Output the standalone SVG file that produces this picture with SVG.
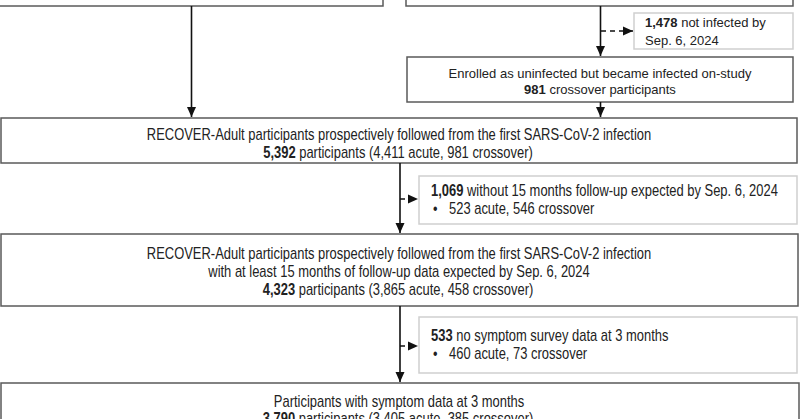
<svg xmlns="http://www.w3.org/2000/svg" width="800" height="419" viewBox="0 0 800 419">
<style>
.main{fill:#fff;stroke:#5a5a5a;stroke-width:1.5}
.side{fill:#fff;stroke:#cfcfcf;stroke-width:1.5}
.t13{font-family:"Liberation Sans",Arial,sans-serif;font-size:13px;fill:#222}
.tn{font-family:"Liberation Sans",Arial,sans-serif;font-size:15.8px;fill:#222}
.c{text-anchor:middle}
.b{font-weight:bold}
.solid{stroke:#111;stroke-width:1.6;fill:none}
.dash{stroke:#111;stroke-width:1.6;fill:none;stroke-dasharray:5 4}
</style>
<defs>
<marker id="ah" markerUnits="userSpaceOnUse" markerWidth="10" markerHeight="10" viewBox="0 0 10 10" refX="10" refY="5" orient="auto">
<path d="M0,0.5 L10,5 L0,9.5 Z" fill="#111"/>
</marker>
</defs>
<g id="top-left"><rect class="main" x="-2" y="-20" width="385" height="26"/></g>
<g id="top-right"><rect class="main" x="406" y="-20" width="387" height="26"/></g>
<g id="not-infected"><rect class="side" x="634" y="13" width="159" height="36"/>
<text class="t13" x="645" y="27"><tspan class="b">1,478</tspan> not infected by</text>
<text class="t13" x="645" y="45">Sep. 6, 2024</text></g>
<g id="crossover"><rect class="main" x="407" y="57" width="386" height="45"/>
<text class="t13 c" x="600" y="78">Enrolled as uninfected but became infected on-study</text>
<text class="t13 c" x="600" y="94"><tspan class="b">981</tspan> crossover participants</text></g>
<g id="followed"><rect class="main" x="1" y="118" width="796" height="45"/>
<text class="tn c" transform="translate(399,140) scale(0.82,1)">RECOVER-Adult participants prospectively followed from the first SARS-CoV-2 infection</text>
<text class="tn c" transform="translate(398,158) scale(0.82,1)"><tspan class="b">5,392</tspan> participants (4,411 acute, 981 crossover)</text></g>
<g id="no-followup"><rect class="side" x="419" y="176" width="378" height="48"/>
<text class="tn" transform="translate(431,196) scale(0.82,1)"><tspan class="b">1,069</tspan> without 15 months follow-up expected by Sep. 6, 2024</text>
<text class="tn" transform="translate(433,214) scale(0.82,1)">•</text>
<text class="tn" transform="translate(449,214) scale(0.82,1)">523 acute, 546 crossover</text></g>
<g id="followed-15"><rect class="main" x="1" y="234" width="797" height="72"/>
<text class="tn c" transform="translate(399,259) scale(0.82,1)">RECOVER-Adult participants prospectively followed from the first SARS-CoV-2 infection</text>
<text class="tn c" transform="translate(399,277) scale(0.82,1)">with at least 15 months of follow-up data expected by Sep. 6, 2024</text>
<text class="tn c" transform="translate(398,295) scale(0.82,1)"><tspan class="b">4,323</tspan> participants (3,865 acute, 458 crossover)</text></g>
<g id="no-survey"><rect class="side" x="419" y="317" width="378" height="56"/>
<text class="tn" transform="translate(431,341) scale(0.82,1)"><tspan class="b">533</tspan> no symptom survey data at 3 months</text>
<text class="tn" transform="translate(433,359) scale(0.82,1)">•</text>
<text class="tn" transform="translate(449,359) scale(0.82,1)">460 acute, 73 crossover</text></g>
<g id="symptom-data"><rect class="main" x="1" y="383" width="798" height="60"/>
<text class="tn c" transform="translate(399,407) scale(0.82,1)">Participants with symptom data at 3 months</text>
<text class="tn c" transform="translate(398,424) scale(0.82,1)"><tspan class="b">3,790</tspan> participants (3,405 acute, 385 crossover)</text></g>
<g id="connectors">
<line class="solid" x1="191.5" y1="6" x2="191.5" y2="117" marker-end="url(#ah)"/>
<line class="solid" x1="600.5" y1="6" x2="600.5" y2="56" marker-end="url(#ah)"/>
<line class="dash" x1="601" y1="31" x2="633" y2="31" marker-end="url(#ah)"/>
<line class="solid" x1="600.5" y1="102" x2="600.5" y2="117" marker-end="url(#ah)"/>
<line class="solid" x1="400" y1="163" x2="400" y2="233" marker-end="url(#ah)"/>
<line class="dash" x1="400" y1="199" x2="418" y2="199" marker-end="url(#ah)"/>
<line class="solid" x1="400" y1="306" x2="400" y2="382" marker-end="url(#ah)"/>
<line class="dash" x1="400" y1="346" x2="418" y2="346" marker-end="url(#ah)"/>
</g>
</svg>
